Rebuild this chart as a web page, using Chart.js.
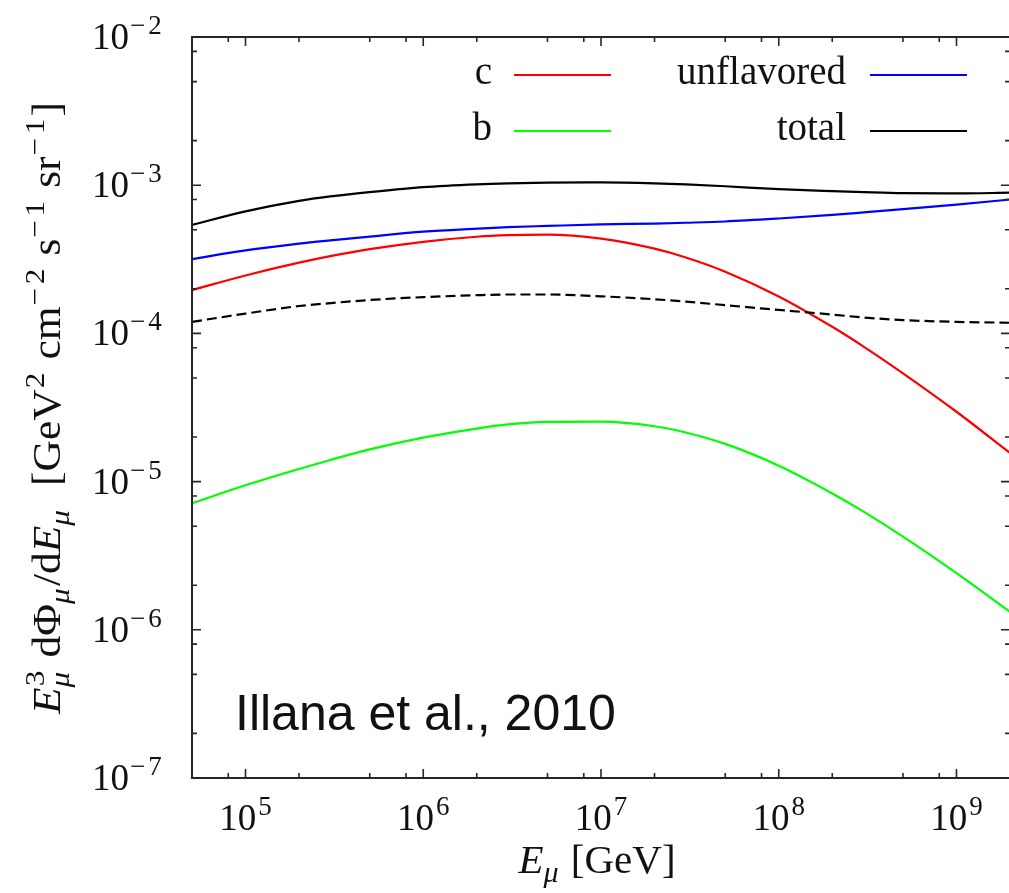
<!DOCTYPE html>
<html>
<head>
<meta charset="utf-8">
<script src="https://cdn.jsdelivr.net/npm/chart.js@4.4.1/dist/chart.umd.min.js"></script>
<style>
  html, body { margin: 0; padding: 0; background: #fff; overflow: hidden; }
  #wrap { position: relative; width: 1013px; height: 893px; }
</style>
</head>
<body>
<div id="wrap"><canvas id="flux" width="1013" height="893"></canvas></div>
<script>
// Muon energy grid [GeV]
const energies = [5e4, 1e5, 2e5, 3e5, 5e5, 1e6, 2e6, 3e6, 5e6, 1e7, 2e7, 3e7, 5e7, 1e8, 2e8, 3e8, 5e8, 1e9, 2e9];

// E^3 dPhi/dE  [GeV^2 cm^-2 s^-1 sr^-1]
const charmFlux = [1.96e-4, 2.46e-4, 3.00e-4, 3.32e-4, 3.70e-4, 4.15e-4, 4.49e-4, 4.60e-4, 4.64e-4, 4.36e-4,
                   3.73e-4, 3.255e-4, 2.61e-4, 1.776e-4, 1.108e-4, 8.15e-5, 5.38e-5, 2.96e-5, 1.56e-5];
const bottomFlux = [7.14e-6, 9.44e-6, 1.216e-5, 1.40e-5, 1.65e-5, 1.98e-5, 2.28e-5, 2.43e-5, 2.53e-5, 2.54e-5,
                    2.364e-5, 2.146e-5, 1.796e-5, 1.28e-5, 8.32e-6, 6.27e-6, 4.25e-6, 2.41e-6, 1.32e-6];
const unflavoredFlux = [3.17e-4, 3.63e-4, 4.03e-4, 4.24e-4, 4.50e-4, 4.86e-4, 5.09e-4, 5.21e-4, 5.31e-4, 5.44e-4,
                        5.51e-4, 5.58e-4, 5.69e-4, 5.96e-4, 6.30e-4, 6.55e-4, 6.89e-4, 7.39e-4, 8.01e-4];
const totalFlux = [5.40e-4, 6.66e-4, 7.84e-4, 8.40e-4, 8.98e-4, 9.70e-4, 1.014e-3, 1.030e-3, 1.041e-3, 1.044e-3,
                   1.030e-3, 1.013e-3, 9.84e-4, 9.40e-4, 9.11e-4, 8.97e-4, 8.83e-4, 8.80e-4, 8.90e-4];
const dashedFlux = [1.197e-4, 1.36e-4, 1.53e-4, 1.60e-4, 1.68e-4, 1.757e-4, 1.81e-4, 1.83e-4, 1.83e-4, 1.78e-4,
                    1.70e-4, 1.64e-4, 1.55e-4, 1.44e-4, 1.34e-4, 1.28e-4, 1.23e-4, 1.196e-4, 1.18e-4];

// Axis ranges and tick decades
const xRange = [5e4, 2e9];
const yRange = [1e-7, 1e-2];
const xDecades = [5, 6, 7, 8, 9];
const yDecades = [-7, -6, -5, -4, -3, -2];
const minorMultipliers = [2, 5, 8];

const legendLeft = [
  { label: 'c', color: '#ff0000' },
  { label: 'b', color: '#00ff00' }
];
const legendRight = [
  { label: 'unflavored', color: '#0000ff' },
  { label: 'total', color: '#000000' }
];
const creditText = 'Illana et al., 2010';

const SERIF = '"Liberation Serif", "DejaVu Serif", serif';
const SANS = '"Liberation Sans", Arial, sans-serif';

const pts = vals => energies.map((e, i) => ({ x: e, y: vals[i] }));

// Exponent text drawn as minus sign + digits, with a little gap like TeX
function drawExponent(ctx, k, x, y, size, draw) {
  ctx.font = size + 'px ' + SERIF;
  let cx = x;
  if (k < 0) {
    if (draw) ctx.fillText('\u2212', cx, y);
    cx += ctx.measureText('\u2212').width + 3;
  }
  const d = String(Math.abs(k));
  if (draw) ctx.fillText(d, cx, y);
  cx += ctx.measureText(d).width;
  return cx - x;
}

// Draws (or measures) a run of text with super/subscripts; returns its width.
function richText(ctx, items, x, y, size, draw) {
  let cx = x;
  const small = Math.round(size * 0.72);
  for (const it of items) {
    if (it.t !== undefined) {
      ctx.font = (it.i ? 'italic ' : '') + size + 'px ' + SERIF;
      if (draw) ctx.fillText(it.t, cx, y);
      cx += ctx.measureText(it.t).width;
    } else {
      let w = 0;
      if (it.sup !== undefined) {
        ctx.font = small + 'px ' + SERIF;
        let sx = cx + 1;
        for (const ch of it.sup) {
          if (draw) ctx.fillText(ch, sx, y - size * 0.4);
          sx += ctx.measureText(ch).width + (ch === '\u2212' ? 3 : 0);
        }
        w = Math.max(w, sx - cx);
      }
      if (it.sub !== undefined) {
        ctx.font = 'italic ' + small + 'px ' + SERIF;
        if (draw) ctx.fillText(it.sub, cx, y + size * 0.22);
        w = Math.max(w, ctx.measureText(it.sub).width);
      }
      cx += w + 2;
    }
  }
  return cx - x;
}

const frameAndAxes = {
  id: 'frameAndAxes',
  afterDatasetsDraw(chart) {
    const { ctx, chartArea: a, scales: { x, y } } = chart;
    ctx.save();
    ctx.strokeStyle = '#262626';
    ctx.lineWidth = 2;
    ctx.strokeRect(a.left, a.top, a.right - a.left, a.bottom - a.top);

    const tickSet = range => {
      const list = [];
      const lo = Math.floor(Math.log10(range[0])), hi = Math.ceil(Math.log10(range[1]));
      for (let k = lo; k <= hi; k++) {
        const major = Math.pow(10, k);
        if (major >= range[0] && major <= range[1]) list.push({ v: major, major: true });
        for (const m of minorMultipliers) {
          const v = m * major;
          if (v > range[0] && v < range[1]) list.push({ v, major: false });
        }
      }
      return list;
    };

    ctx.lineWidth = 1.6;
    for (const t of tickSet(xRange)) {
      const px = x.getPixelForValue(t.v);
      const len = t.major ? 9 : 5;
      ctx.beginPath();
      ctx.moveTo(px, a.bottom); ctx.lineTo(px, a.bottom - len);
      ctx.moveTo(px, a.top); ctx.lineTo(px, a.top + len);
      ctx.stroke();
    }
    for (const t of tickSet(yRange)) {
      const py = y.getPixelForValue(t.v);
      const len = t.major ? 9 : 5;
      ctx.beginPath();
      ctx.moveTo(a.left, py); ctx.lineTo(a.left + len, py);
      ctx.moveTo(a.right, py); ctx.lineTo(a.right - len, py);
      ctx.stroke();
    }
    ctx.restore();
  },
  afterDraw(chart) {
    const { ctx, chartArea: a, scales: { x, y } } = chart;
    ctx.save();
    ctx.fillStyle = '#111';
    ctx.textBaseline = 'alphabetic';
    ctx.textAlign = 'left';
    const big = 37, sup = 27;

    // y tick labels
    for (const k of yDecades) {
      const py = y.getPixelForValue(Math.pow(10, k));
      ctx.font = big + 'px ' + SERIF;
      const bw = ctx.measureText('10').width;
      const left = a.left - 100;
      ctx.fillText('10', left, py + 12);
      drawExponent(ctx, k, left + bw + 1, py - 3, sup, true);
    }
    // x tick labels
    for (const k of xDecades) {
      const px = x.getPixelForValue(Math.pow(10, k));
      const ew = drawExponent(ctx, k, 0, 0, sup, false);
      ctx.font = big + 'px ' + SERIF;
      const bw = ctx.measureText('10').width;
      const start = px - (bw + ew + 2) / 2;
      ctx.fillText('10', start, a.bottom + 52);
      drawExponent(ctx, k, start + bw + 2, a.bottom + 37, sup, true);
    }

    // x axis title
    const xTitle = [{ t: 'E', i: true }, { sub: '\u03bc' }, { t: ' [GeV]' }];
    const xw = richText(ctx, xTitle, 0, 0, 41, false);
    richText(ctx, xTitle, (a.left + a.right) / 2 - 4 - xw / 2, a.bottom + 95, 41, true);

    // y axis title (rotated, stretched along the text to its full length)
    const yTitle = [
      { t: 'E', i: true }, { sup: '3', sub: '\u03bc' }, { t: ' d\u03a6' }, { sub: '\u03bc' },
      { t: '/d' }, { t: 'E', i: true }, { sub: '\u03bc' }, { t: '  [GeV' }, { sup: '2' },
      { t: ' cm' }, { sup: '\u22122' }, { t: ' s' }, { sup: '\u22121' }, { t: ' sr' }, { sup: '\u22121' }, { t: ']' }
    ];
    ctx.save();
    ctx.translate(60, 408);
    ctx.rotate(-Math.PI / 2);
    const yw = richText(ctx, yTitle, 0, 0, 39, false);
    ctx.scale(612 / yw, 1);
    richText(ctx, yTitle, -yw / 2, 0, 39, true);
    ctx.restore();

    // legend: label right-aligned, line sample to the right
    ctx.font = '39px ' + SERIF;
    ctx.textAlign = 'right';
    const rows = [a.top + 38, a.top + 94];
    const cols = [
      { items: legendLeft, textRight: a.left + 300, lineFrom: a.left + 322, lineTo: a.left + 419 },
      { items: legendRight, textRight: a.right - 164, lineFrom: a.right - 140, lineTo: a.right - 43 }
    ];
    for (const col of cols) {
      col.items.forEach((it, r) => {
        ctx.fillStyle = '#111';
        ctx.fillText(it.label, col.textRight, rows[r] + 9);
        ctx.strokeStyle = it.color;
        ctx.lineWidth = 2.2;
        ctx.beginPath();
        ctx.moveTo(col.lineFrom, rows[r]);
        ctx.lineTo(col.lineTo, rows[r]);
        ctx.stroke();
      });
    }

    // credit
    ctx.textAlign = 'left';
    ctx.fillStyle = '#111';
    ctx.font = '50px ' + SANS;
    ctx.fillText(creditText, a.left + 43, 730);
    ctx.restore();
  }
};

const line = (vals, color, dash) => ({
  data: pts(vals),
  borderColor: color,
  borderWidth: 2.2,
  borderDash: dash || [],
  pointRadius: 0,
  fill: false,
  cubicInterpolationMode: 'monotone'
});

new Chart(document.getElementById('flux'), {
  type: 'line',
  data: {
    datasets: [
      line(dashedFlux, '#000000', [10, 5]),
      line(bottomFlux, '#00ff00'),
      line(charmFlux, '#ff0000'),
      line(unflavoredFlux, '#0000ff'),
      line(totalFlux, '#000000')
    ]
  },
  options: {
    responsive: false,
    animation: false,
    devicePixelRatio: 1,
    layout: { padding: { left: 192, top: 37, right: 3, bottom: 115 } },
    scales: {
      x: { type: 'logarithmic', min: xRange[0], max: xRange[1], display: false },
      y: { type: 'logarithmic', min: yRange[0], max: yRange[1], display: false }
    },
    plugins: { legend: { display: false }, tooltip: { enabled: false } }
  },
  plugins: [frameAndAxes]
});
</script>
</body>
</html>
